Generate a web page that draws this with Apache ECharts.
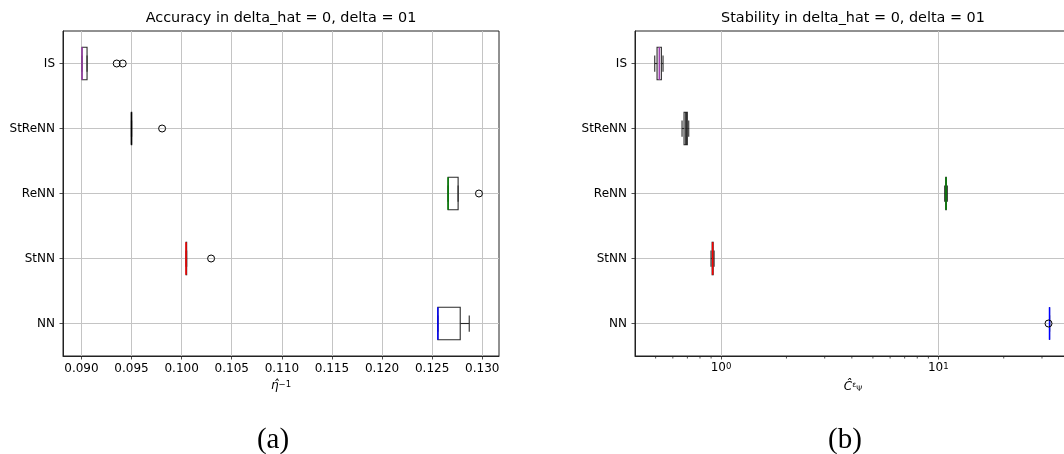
<!DOCTYPE html>
<html>
<head>
<meta charset="utf-8">
<script src="https://cdn.jsdelivr.net/npm/echarts@6/dist/echarts.min.js"></script>
<style>
html, body { margin: 0; padding: 0; background: #fff; }
#chart { width: 1064px; height: 454px; }
</style>
</head>
<body>
<div id="chart"></div>
<script>
// methods, bottom to top (box positions 1..5)
const methods = ['NN', 'StNN', 'ReNN', 'StReNN', 'IS'];

// (a) accuracy, eta_hat^-1
const accLow  = [0.12557, 0.10044, 0.12659, 0.09499, 0.09006];
const accQ1   = [0.12557, 0.10044, 0.12659, 0.09499, 0.09006];
const accMed  = [0.12557, 0.10044, 0.12659, 0.09499, 0.09006];
const accQ3   = [0.12780, 0.10050, 0.12759, 0.09501, 0.09056];
const accHigh = [0.12870, 0.10050, 0.12759, 0.09501, 0.09056];
const accOutlierMethod = ['IS', 'IS', 'StReNN', 'ReNN', 'StNN'];
const accOutlierValue  = [0.09352, 0.09412, 0.09805, 0.12967, 0.10294];
const accTicks = [0.090, 0.095, 0.100, 0.105, 0.110, 0.115, 0.120, 0.125, 0.130];

// (b) stability, C_psi^eps (log axis)
const stabLow  = [32.5, 0.899, 10.70, 0.6615, 0.4953];
const stabQ1   = [32.5, 0.910, 10.82, 0.6757, 0.5076];
const stabMed  = [32.5, 0.915, 10.85, 0.6900, 0.5199];
const stabQ3   = [32.5, 0.920, 10.88, 0.6996, 0.5313];
const stabHigh = [32.5, 0.929, 11.00, 0.7101, 0.5408];
const stabOutlierMethod = ['NN'];
const stabOutlierValue  = [32.15];
const stabTicks = [1, 10];
const stabMinorTicks = [0.5, 0.6, 0.7, 0.8, 0.9, 2, 3, 4, 5, 6, 7, 8, 9, 20, 30, 40];

const medianColors = ['#0000ff', '#ff0000', '#008000', '#000000', '#a040b0'];
const yPositions = [1, 2, 3, 4, 5];
const FONT = 'DejaVu Sans';

function boxRows(lo, q1, md, q3, hi) {
    return yPositions.map((p, i) => [p, lo[i], q1[i], md[i], q3[i], hi[i]]);
}
function outlierRows(names, vals) {
    return names.map((n, i) => [vals[i], methods.indexOf(n) + 1]);
}

// matplotlib style box: rect q1..q3, whiskers with half-width caps, coloured median
function renderBox(params, api) {
    const pos = api.value(0);
    const lo = api.coord([api.value(1), pos]);
    const q1 = api.coord([api.value(2), pos]);
    const md = api.coord([api.value(3), pos]);
    const q3 = api.coord([api.value(4), pos]);
    const hi = api.coord([api.value(5), pos]);
    const half = Math.abs(api.coord([api.value(2), pos + 0.25])[1] - q1[1]);
    const cap = half / 2;
    const y = q1[1];
    const line = '#2a2a2a';
    const ln = (x1, y1, x2, y2, c, w) => ({
        type: 'line',
        shape: {x1: x1, y1: y1, x2: x2, y2: y2},
        style: {stroke: c, lineWidth: w}
    });
    return {
        type: 'group',
        children: [
            ln(lo[0], y, q1[0], y, line, 1.1),
            ln(q3[0], y, hi[0], y, line, 1.1),
            ln(lo[0], y - cap, lo[0], y + cap, line, 1.1),
            ln(hi[0], y - cap, hi[0], y + cap, line, 1.1),
            {
                type: 'rect',
                shape: {x: q1[0], y: y - half, width: q3[0] - q1[0], height: half * 2},
                style: {fill: 'none', stroke: line, lineWidth: 1.1}
            },
            ln(md[0], y - half, md[0], y + half, medianColors[params.dataIndex], 1.5)
        ]
    };
}

function renderMinorTick(params, api) {
    const p = api.coord([api.value(0), api.value(1)]);
    return {
        type: 'line',
        shape: {x1: p[0], y1: p[1], x2: p[0], y2: p[1] + 2.5},
        style: {stroke: '#222', lineWidth: 0.8}
    };
}

const gridLine = {show: true, lineStyle: {color: '#c4c4c4', width: 1}};
const axisLine = {show: true, lineStyle: {color: '#222', width: 1}};
const tick = {show: true, inside: false, length: 3.5, lineStyle: {color: '#222', width: 0.8}};
const labelBase = {color: '#000', fontFamily: FONT, fontSize: 12};
const titleStyle = {fontFamily: FONT, fontSize: 14.4, fontWeight: 'normal', color: '#000'};

function yAxisFor(gridIndex) {
    return {
        type: 'value', gridIndex: gridIndex, min: 0.5, max: 5.5,
        axisLine: axisLine,
        axisTick: Object.assign({customValues: yPositions}, tick),
        axisLabel: Object.assign({customValues: yPositions, margin: 8,
            formatter: v => methods[Math.round(v) - 1]}, labelBase),
        splitLine: gridLine
    };
}

const chart = echarts.init(document.getElementById('chart'), null, {renderer: 'canvas'});

const option = {
    animation: false,
    backgroundColor: '#fff',
    title: [
        {text: 'Accuracy in delta_hat = 0, delta = 01', left: 281, top: 11, textAlign: 'center',
         padding: 0, textStyle: titleStyle},
        {text: 'Stability in delta_hat = 0, delta = 01', left: 853, top: 11, textAlign: 'center',
         padding: 0, textStyle: titleStyle}
    ],
    grid: [
        {left: 63, top: 31, width: 436, height: 325, show: true, borderColor: '#222', borderWidth: 1,
         backgroundColor: 'transparent', containLabel: false, outerBoundsMode: 'none'},
        {left: 635, top: 31, width: 436, height: 325, show: true, borderColor: '#222', borderWidth: 1,
         backgroundColor: 'transparent', containLabel: false, outerBoundsMode: 'none'}
    ],
    xAxis: [
        {
            type: 'value', gridIndex: 0, min: 0.08816, max: 0.13167,
            axisLine: axisLine,
            axisTick: Object.assign({customValues: accTicks}, tick),
            axisLabel: Object.assign({customValues: accTicks, margin: 7,
                formatter: v => v.toFixed(3)}, labelBase),
            splitLine: gridLine,
            name: '{i|η̂}{s|−1}', nameLocation: 'middle', nameGap: 23,
            nameTextStyle: {fontFamily: FONT, color: '#000', rich: {
                i: {fontFamily: FONT, fontStyle: 'italic', fontSize: 12, color: '#000'},
                s: {fontFamily: FONT, fontSize: 8.5, verticalAlign: 'top', color: '#000'}
            }}
        },
        {
            type: 'log', logBase: 10, gridIndex: 1, min: 0.4018, max: 40.8,
            axisLine: axisLine,
            axisTick: Object.assign({customValues: stabTicks}, tick),
            axisLabel: Object.assign({customValues: stabTicks, margin: 6,
                formatter: v => '{b|10}{e|' + Math.round(Math.log10(v)) + '}',
                rich: {
                    b: {fontFamily: FONT, fontSize: 12, color: '#000'},
                    e: {fontFamily: FONT, fontSize: 8.5, color: '#000', verticalAlign: 'top'}
                }}, labelBase),
            splitLine: gridLine,
            name: '{c|Ĉ}{p|ε}{b|Ψ}', nameLocation: 'middle', nameGap: 25,
            nameTextStyle: {fontFamily: FONT, color: '#000', rich: {
                c: {fontFamily: FONT, fontStyle: 'italic', fontSize: 12, color: '#000'},
                p: {fontFamily: FONT, fontSize: 7.5, verticalAlign: 'top', color: '#000'},
                b: {fontFamily: FONT, fontSize: 7.5, verticalAlign: 'bottom', color: '#000'}
            }}
        }
    ],
    yAxis: [yAxisFor(0), yAxisFor(1)],
    series: [
        {
            type: 'custom', name: 'accuracy', xAxisIndex: 0, yAxisIndex: 0,
            data: boxRows(accLow, accQ1, accMed, accQ3, accHigh),
            encode: {x: [1, 2, 3, 4, 5], y: 0},
            renderItem: renderBox, z: 3
        },
        {
            type: 'scatter', xAxisIndex: 0, yAxisIndex: 0,
            data: outlierRows(accOutlierMethod, accOutlierValue),
            symbol: 'circle', symbolSize: 7,
            itemStyle: {color: 'transparent', borderColor: '#000', borderWidth: 1, opacity: 1},
            z: 4
        },
        {
            type: 'custom', name: 'stability', xAxisIndex: 1, yAxisIndex: 1,
            data: boxRows(stabLow, stabQ1, stabMed, stabQ3, stabHigh),
            encode: {x: [1, 2, 3, 4, 5], y: 0},
            renderItem: renderBox, z: 3
        },
        {
            type: 'scatter', xAxisIndex: 1, yAxisIndex: 1,
            data: outlierRows(stabOutlierMethod, stabOutlierValue),
            symbol: 'circle', symbolSize: 7,
            itemStyle: {color: 'transparent', borderColor: '#000', borderWidth: 1, opacity: 1},
            z: 4
        },
        {
            type: 'custom', xAxisIndex: 1, yAxisIndex: 1, clip: false,
            data: stabMinorTicks.map(v => [v, 0.5]),
            encode: {x: 0, y: 1},
            renderItem: renderMinorTick, z: 5
        }
    ],
    graphic: [
        {type: 'text', x: 273, y: 440, style: {text: '(a)', fontFamily: 'Liberation Serif', fontSize: 29,
            fill: '#000', textAlign: 'center', textVerticalAlign: 'middle'}},
        {type: 'text', x: 845, y: 440, style: {text: '(b)', fontFamily: 'Liberation Serif', fontSize: 29,
            fill: '#000', textAlign: 'center', textVerticalAlign: 'middle'}}
    ]
};

chart.setOption(option);
</script>
</body>
</html>
